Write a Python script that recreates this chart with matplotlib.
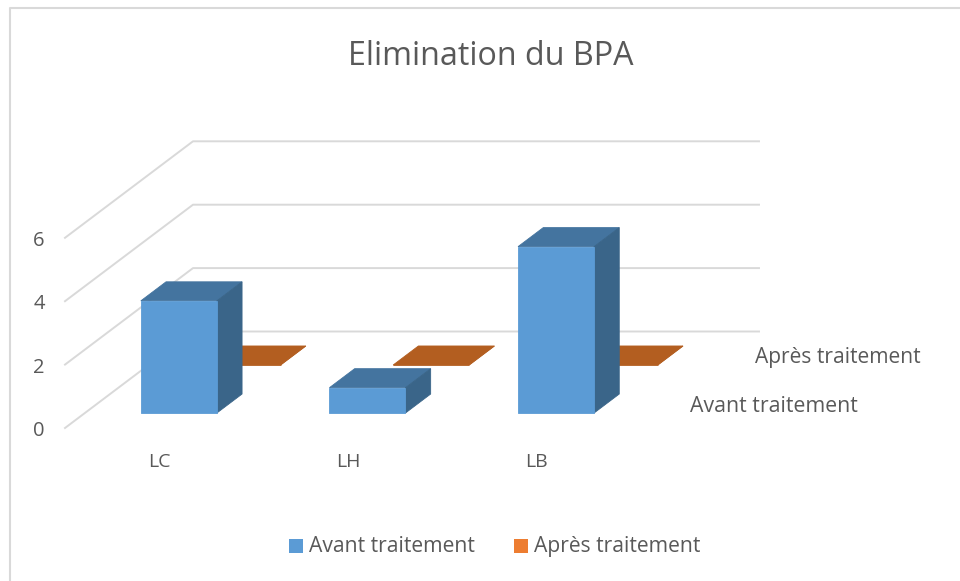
import matplotlib
matplotlib.use("Agg")
import matplotlib.pyplot as plt
from matplotlib.patches import Polygon, Rectangle

plt.rcParams['font.family'] = ['Open Sans', 'DejaVu Sans']

# values
categories = ["LC", "LH", "LB"]
avant = [3.54, 0.8, 5.25]
apres = [0.0, 0.0, 0.0]
series_names = ["Avant traitement", "Après traitement"]
yticks = [0, 2, 4, 6]

TEXT = "#595959"
GRID = "#d9d9d9"

# oblique projection of the Excel 3D chart, in pixels
X0, Y0 = 65, 428      # front corner of the floor at value 0
UNIT = 31.7           # pixels per value unit
CAT_W = 188.6         # pixels per category
BAR_W = 76
DEPTH = (128, -96.5)  # full floor depth vector
BAR_START = 56        # x offset of the first bar from the floor corner


def proj(x, d, z):
    # x along the categories in pixels, d depth 0..1, z value
    return (X0 + x + d * DEPTH[0], Y0 + d * DEPTH[1] - z * UNIT)


def box(ax, x, d0, d1, height, front, top, side, zorder):
    w = BAR_W
    faces = [
        ([proj(x, d0, height), proj(x, d1, height), proj(x + w, d1, height), proj(x + w, d0, height)], top),
        ([proj(x + w, d0, 0), proj(x + w, d1, 0), proj(x + w, d1, height), proj(x + w, d0, height)], side),
        ([proj(x, d0, 0), proj(x + w, d0, 0), proj(x + w, d0, height), proj(x, d0, height)], front),
    ]
    for pts, col in faces:
        ax.add_patch(Polygon(pts, closed=True, facecolor=col, edgecolor=col, lw=0.6, zorder=zorder))


fig = plt.figure(figsize=(9.6, 5.81), dpi=100)
ax = fig.add_axes([0, 0, 1, 1])
ax.set_xlim(0, 960)
ax.set_ylim(581, 0)
ax.axis("off")

# chart frame, cropped at the right and bottom of the picture
ax.plot([10, 10, 960], [581, 8, 8], color=GRID, lw=1.5, zorder=1)

# gridlines: side wall then back wall
for v in yticks:
    xs, ys = zip(proj(0, 0, v), proj(0, 1, v), proj(566, 1, v))
    ax.plot(xs, ys, color=GRID, lw=1.4, zorder=1)
    ax.text(39, proj(0, 0, v)[1] + 8, str(v), ha="center", va="baseline", fontsize=14.5, color=TEXT)

# back row first so the front bars sit on top of it
for i, v in enumerate(apres):
    x = BAR_START + i * CAT_W
    box(ax, x, 0.653, 0.85, v, "#b35e20", "#b35e20", "#b35e20", 2)
for i, v in enumerate(avant):
    x = BAR_START + i * CAT_W
    box(ax, x, 0.155, 0.352, v, "#5b9bd5", "#44749f", "#3a6589", 3)
    ax.text(X0 + x + 38.5, 467, categories[i], ha="center", va="baseline", fontsize=14, color=TEXT)

# series labels on the depth axis
ax.text(755, 363, series_names[1], ha="left", va="baseline", fontsize=15.1, color=TEXT)
ax.text(690, 412, series_names[0], ha="left", va="baseline", fontsize=15.3, color=TEXT)

ax.text(491, 65, "Elimination du BPA", ha="center", va="baseline", fontsize=23.2, color=TEXT)

# legend
ax.add_patch(Rectangle((289, 539), 14, 14, facecolor="#5b9bd5", edgecolor="none"))
ax.text(309, 552, series_names[0], ha="left", va="baseline", fontsize=15.2, color=TEXT)
ax.add_patch(Rectangle((514, 539), 14, 14, facecolor="#ed7d31", edgecolor="none"))
ax.text(534, 552, series_names[1], ha="left", va="baseline", fontsize=15.2, color=TEXT)

fig.savefig("out.png", dpi=100)
